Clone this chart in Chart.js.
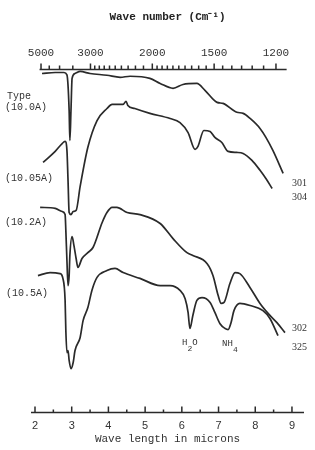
<!DOCTYPE html>
<html>
<head>
<meta charset="utf-8">
<script src="https://cdn.jsdelivr.net/npm/chart.js@4.4.1/dist/chart.umd.min.js"></script>
<style>
  html, body { margin: 0; padding: 0; background: #fff; }
  #chart { display: block; }
</style>
</head>
<body>
<canvas id="chart" width="315" height="450"></canvas>
<script>
/* global Chart */

// wave length (microns) and relative transmittance (curves are offset, arbitrary units)
var lam301 = [2.19, 2.55, 2.79, 2.87, 2.93, 2.95, 2.98, 3.01, 3.09, 3.23, 3.50, 3.96, 4.32, 4.59, 5.13, 5.41, 5.76, 6.03, 6.41, 6.63, 6.96, 7.12, 7.50, 7.67, 7.86, 8.13, 8.29, 8.48, 8.76];
var tr301  = [98.8, 99.1, 99.1, 98.4, 88.0, 79.3, 88.0, 97.4, 98.8, 99.4, 98.8, 98.3, 97.7, 98.0, 97.4, 95.9, 94.5, 95.6, 95.9, 93.9, 90.4, 90.1, 87.5, 87.2, 85.7, 82.8, 80.2, 76.4, 69.7];

var lam304 = [2.22, 2.55, 2.74, 2.82, 2.87, 2.90, 2.93, 2.98, 3.04, 3.12, 3.23, 3.44, 3.69, 3.96, 4.10, 4.40, 4.48, 4.53, 4.72, 5.13, 5.68, 5.95, 6.17, 6.36, 6.44, 6.60, 6.77, 6.90, 7.09, 7.26, 7.50, 7.67, 7.91, 8.13, 8.29, 8.46];
var tr304  = [72.9, 76.1, 78.4, 79.0, 76.4, 67.6, 58.3, 57.7, 58.6, 58.9, 65.9, 77.3, 85.1, 88.6, 89.8, 89.8, 90.7, 89.5, 88.6, 87.2, 85.7, 84.5, 81.6, 76.7, 77.6, 82.2, 81.9, 80.2, 78.7, 76.1, 75.8, 75.5, 73.5, 70.6, 68.2, 65.3];

var lam302 = [2.14, 2.55, 2.74, 2.82, 2.84, 2.87, 2.90, 2.93, 2.95, 3.01, 3.06, 3.12, 3.17, 3.28, 3.44, 3.58, 3.83, 3.96, 4.10, 4.23, 4.51, 4.86, 5.41, 5.76, 6.14, 6.30, 6.69, 6.85, 6.99, 7.07, 7.15, 7.31, 7.45, 7.58, 7.86, 8.13, 8.35, 8.59, 8.81];
var tr302  = [59.8, 59.5, 58.6, 57.7, 53.1, 44.3, 37.0, 39.9, 45.8, 51.3, 48.7, 44.9, 42.3, 44.9, 46.6, 48.1, 55.4, 58.3, 59.8, 59.8, 58.3, 57.7, 55.1, 50.7, 46.6, 45.8, 43.4, 39.9, 34.1, 31.8, 32.1, 37.6, 40.8, 40.5, 36.4, 31.8, 28.9, 26.2, 23.3];

var lam325 = [2.08, 2.41, 2.68, 2.76, 2.82, 2.84, 2.87, 2.90, 2.93, 2.98, 3.04, 3.09, 3.23, 3.31, 3.44, 3.55, 3.69, 3.96, 4.18, 4.40, 4.86, 5.41, 5.68, 5.95, 6.09, 6.17, 6.22, 6.30, 6.41, 6.55, 6.77, 6.90, 7.04, 7.18, 7.26, 7.34, 7.42, 7.58, 7.86, 8.21, 8.40, 8.62];
var tr325  = [39.9, 40.8, 40.5, 39.1, 32.7, 23.9, 17.5, 18.1, 15.2, 12.8, 14.6, 18.1, 21.9, 26.8, 30.6, 35.6, 39.4, 41.4, 42.0, 40.8, 39.1, 37.0, 37.0, 35.6, 33.2, 29.2, 24.5, 28.3, 32.7, 33.5, 32.1, 29.2, 25.9, 24.5, 24.2, 26.2, 29.7, 31.8, 31.2, 29.7, 27.4, 22.4];

// axis ticks
var micronTicks = [2, 3, 4, 5, 6, 7, 8, 9];
var micronMinor = [2.5, 3.5, 4.5, 5.5, 6.5, 7.5, 8.5];
var waveNumberTicks = [5000, 3000, 2000, 1500, 1200];
var waveNumberMinor = [4500, 4000, 3500, 2900, 2800, 2700, 2600, 2500, 2400, 2300, 2200, 2100,
                       1950, 1900, 1850, 1800, 1750, 1700, 1650, 1600, 1550,
                       1450, 1400, 1350, 1300, 1250];
var waveNumberSpan = [5100, 1160];

var ink = '#2a2a2a';

var toPoints = function (xs, ys) {
    return xs.map(function (x, i) { return { x: x, y: ys[i] }; });
};

var curve = function (label, xs, ys) {
    return {
        label: label,
        data: toPoints(xs, ys),
        borderColor: ink,
        borderWidth: 1.7,
        pointRadius: 0,
        fill: false,
        cubicInterpolationMode: 'monotone'
    };
};

// text placed in data units (microns, transmittance)
var notes = [
    { text: 'Type',     x: 1.24, y: 92.1, font: '10px "Liberation Mono"' },
    { text: '(10.0A)',  x: 1.18, y: 88.9, font: '10px "Liberation Mono"' },
    { text: '(10.05A)', x: 1.18, y: 68.2, font: '10px "Liberation Mono"' },
    { text: '(10.2A)',  x: 1.18, y: 55.4, font: '10px "Liberation Mono"' },
    { text: '(10.5A)',  x: 1.21, y: 34.7, font: '10px "Liberation Mono"' },
    { text: '301', x: 9.0, y: 66.8, font: '10px "Liberation Serif"' },
    { text: '304', x: 9.0, y: 62.7, font: '10px "Liberation Serif"' },
    { text: '302', x: 9.0, y: 24.5, font: '10px "Liberation Serif"' },
    { text: '325', x: 9.0, y: 19.0, font: '10px "Liberation Serif"' }
];
var bands = [
    { main: 'H', sub: '2', tail: 'O', x: 6.22, y: 20.4 },
    { main: 'NH', sub: '4', tail: '', x: 7.31, y: 20.1 }
];

var axisMarks = {
    id: 'axisMarks',
    afterDraw: function (chart) {
        var ctx = chart.ctx;
        var xs = chart.scales.x, xt = chart.scales.x2, ys = chart.scales.y;
        var area = chart.chartArea;
        ctx.save();
        ctx.strokeStyle = ink;
        ctx.lineWidth = 1.5;

        // bottom (microns) axis, ticks pointing up
        ctx.beginPath();
        ctx.moveTo(area.left, area.bottom);
        ctx.lineTo(area.right, area.bottom);
        micronTicks.forEach(function (v) {
            var p = xs.getPixelForValue(v);
            ctx.moveTo(p, area.bottom);
            ctx.lineTo(p, area.bottom - 6);
        });
        micronMinor.forEach(function (v) {
            var p = xs.getPixelForValue(v);
            ctx.moveTo(p, area.bottom);
            ctx.lineTo(p, area.bottom - 3);
        });
        ctx.stroke();

        // top (wave number) axis, ticks pointing up
        var top = area.top;
        ctx.beginPath();
        ctx.moveTo(xt.getPixelForValue(10000 / waveNumberSpan[0]), top);
        ctx.lineTo(xt.getPixelForValue(10000 / waveNumberSpan[1]), top);
        waveNumberTicks.forEach(function (w) {
            var p = xt.getPixelForValue(10000 / w);
            ctx.moveTo(p, top);
            ctx.lineTo(p, top - 6);
        });
        waveNumberMinor.forEach(function (w) {
            var p = xt.getPixelForValue(10000 / w);
            ctx.moveTo(p, top);
            ctx.lineTo(p, top - 4);
        });
        ctx.stroke();

        // labels
        ctx.fillStyle = '#333';
        ctx.textBaseline = 'middle';
        ctx.textAlign = 'left';
        notes.forEach(function (n) {
            ctx.font = n.font;
            ctx.fillText(n.text, xs.getPixelForValue(n.x), ys.getPixelForValue(n.y));
        });
        bands.forEach(function (b) {
            ctx.font = '9px "Liberation Mono"';
            var wMain = ctx.measureText(b.main).width;
            var wTail = ctx.measureText(b.tail).width;
            ctx.font = '8px "Liberation Mono"';
            var wSub = ctx.measureText(b.sub).width;
            var cx = xs.getPixelForValue(b.x);
            var cy = ys.getPixelForValue(b.y);
            var x0 = cx - (wMain + wSub + wTail) / 2;
            ctx.font = '9px "Liberation Mono"';
            ctx.fillText(b.main, x0, cy);
            ctx.fillText(b.tail, x0 + wMain + wSub, cy);
            ctx.font = '8px "Liberation Mono"';
            ctx.fillText(b.sub, x0 + wMain, cy + 6);
        });
        ctx.restore();
    }
};

var config = {
    type: 'line',
    data: {
        datasets: [
            curve('301', lam301, tr301),
            curve('304', lam304, tr304),
            curve('302', lam302, tr302),
            curve('325', lam325, tr325)
        ]
    },
    options: {
        responsive: false,
        animation: false,
        layout: { padding: { left: 31, right: 11, top: 0, bottom: 0 } },
        plugins: {
            legend: { display: false },
            tooltip: { enabled: false }
        },
        scales: {
            x: {
                type: 'linear',
                position: 'bottom',
                min: 1.891,
                max: 9.328,
                grid: { display: false, drawTicks: false, tickLength: 0 },
                border: { display: false },
                afterBuildTicks: function (scale) {
                    scale.ticks = micronTicks.map(function (v) { return { value: v }; });
                },
                ticks: {
                    autoSkip: false,
                    maxRotation: 0,
                    padding: 7,
                    color: '#333',
                    font: { family: '"Liberation Sans"', size: 11 },
                    callback: function (v) { return String(v); }
                },
                title: {
                    display: true,
                    text: 'Wave length in microns',
                    color: '#333',
                    font: { family: '"Liberation Mono"', size: 11 },
                    padding: { top: -7, bottom: 4 }
                }
            },
            x2: {
                type: 'linear',
                axis: 'x',
                position: 'top',
                min: 1.730,
                max: 9.089,
                grid: { display: false, drawTicks: false, tickLength: 0 },
                border: { display: false },
                afterBuildTicks: function (scale) {
                    scale.ticks = waveNumberTicks.map(function (w) { return { value: 10000 / w }; });
                },
                ticks: {
                    autoSkip: false,
                    maxRotation: 0,
                    padding: 10,
                    color: '#333',
                    font: { family: '"Liberation Mono"', size: 11 },
                    callback: function (v, i) { return String(waveNumberTicks[i]); }
                },
                title: {
                    display: true,
                    text: 'Wave number (Cm⁻¹)',
                    color: '#222',
                    font: { family: '"Liberation Mono"', size: 11, weight: 'bold' },
                    padding: { top: 11, bottom: 12 }
                }
            },
            y: {
                type: 'linear',
                display: false,
                min: 0,
                max: 100
            }
        }
    },
    plugins: [axisMarks]
};

new Chart(document.getElementById('chart').getContext('2d'), config);
</script>
</body>
</html>
